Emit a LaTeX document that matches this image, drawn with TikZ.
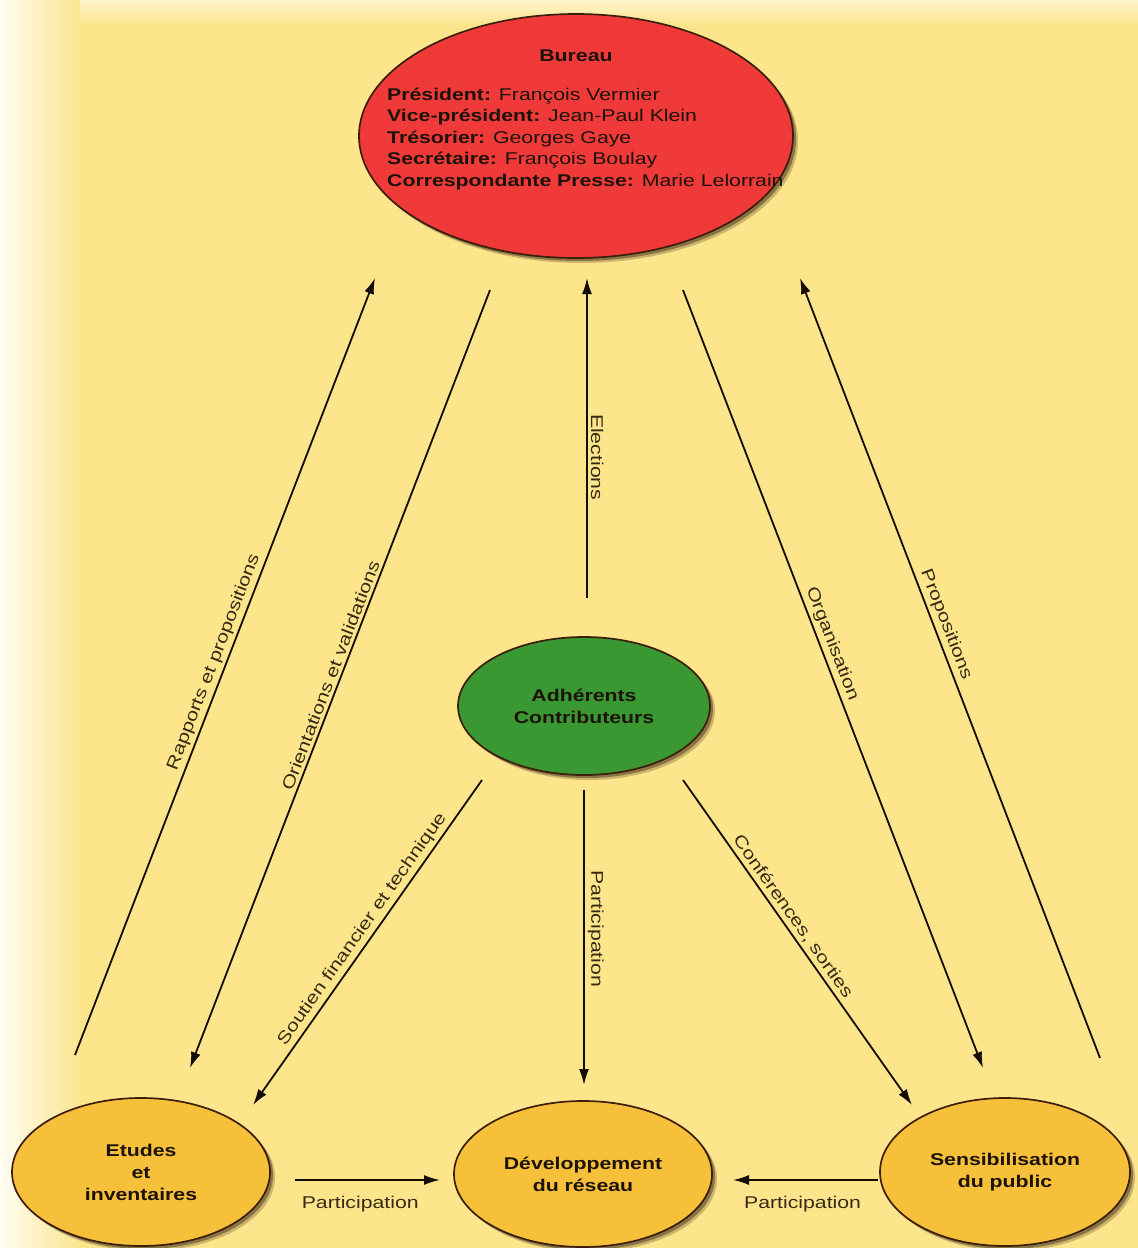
\documentclass[tikz,border=0pt]{standalone}
\usepackage{fontspec}
\setmainfont[FakeStretch=1.25]{Liberation Sans}
\usetikzlibrary{shapes.geometric,arrows.meta,shadows,calc}
\definecolor{bgyel}{RGB}{253,229,140}
\definecolor{redfill}{RGB}{240,58,58}
\definecolor{greenfill}{RGB}{58,152,50}
\definecolor{goldfill}{RGB}{246,192,58}
\definecolor{ink}{RGB}{28,18,8}
\definecolor{lblink}{RGB}{55,42,20}
\definecolor{edgec}{RGB}{60,30,10}
\begin{document}
\begin{tikzpicture}[x=1pt,y=-1pt,
  bubble/.style={ellipse, draw=edgec, line width=1.7pt, inner sep=0pt, align=center, text=ink,
     font=\fontsize{17}{22}\selectfont\bfseries,
     drop shadow={shadow xshift=5pt, shadow yshift=-5pt, fill=black!70!brown, opacity=.25},
     drop shadow={shadow xshift=3pt, shadow yshift=-3pt, fill=black!70!brown, opacity=.45}},
  conn/.style={line width=1.8pt, draw=black!90!brown, -{Latex[length=16pt,width=10pt]}},
  lbl/.style={font=\fontsize{17}{20}\selectfont, text=lblink, inner sep=3pt},
  bline/.style={anchor=base west, inner sep=0pt, text=ink, font=\fontsize{17}{22}\selectfont},
]
\useasboundingbox (0,0) rectangle (1138,1248);
\fill[bgyel] (0,0) rectangle (1138,1248);
% light top edge
\foreach \i in {0,...,7}{
  \pgfmathtruncatemacro{\gg}{244-\i*15/8}
  \pgfmathtruncatemacro{\bb}{200-\i*60/8}
  \definecolor{stepc}{RGB}{253,\gg,\bb}
  \fill[stepc] (0,3*\i) rectangle (1138,3*\i+3.3);
}
% light left edge
\foreach \i in {0,...,19}{
  \pgfmathtruncatemacro{\rr}{255-\i*2/20}
  \pgfmathtruncatemacro{\gg}{253-\i*24/20}
  \pgfmathtruncatemacro{\bb}{240-\i*100/20}
  \definecolor{stepc}{RGB}{\rr,\gg,\bb}
  \fill[stepc] (4*\i,0) rectangle (4*\i+4.3,1248);
}

% nodes
\node[bubble, fill=redfill, minimum width=434pt, minimum height=244pt] (bureau) at (576,136) {};
\node[anchor=base, inner sep=0pt, text=ink, font=\fontsize{17}{22}\selectfont\bfseries] (btitle) at (576,61) {Bureau};
\node[bline] (b1) at (387,100) {\textbf{Président:} François Vermier};
\node[bline] (b2) at (387,121.5) {\textbf{Vice-président:} Jean-Paul Klein};
\node[bline] (b3) at (387,143) {\textbf{Trésorier:} Georges Gaye};
\node[bline] (b4) at (387,164.5) {\textbf{Secrétaire:} François Boulay};
\node[bline] (b5) at (387,186) {\textbf{Correspondante Presse:} Marie Lelorrain};

\node[bubble, fill=greenfill, minimum width=252pt, minimum height=138pt] (adh) at (584,706) {Adhérents\\Contributeurs};
\node[bubble, fill=goldfill, minimum width=258pt, minimum height=148pt] (etudes) at (141,1172) {Etudes\\et\\inventaires};
\node[bubble, fill=goldfill, minimum width=258pt, minimum height=146pt] (dev) at (583,1174) {Développement\\du réseau};
\node[bubble, fill=goldfill, minimum width=250pt, minimum height=148pt] (sens) at (1005,1172) {Sensibilisation\\du public};

% connector end points
\coordinate (rA) at (75,1055);  \coordinate (rB) at (375,278);
\coordinate (oA) at (490,290);  \coordinate (oB) at (190,1068);
\coordinate (eA) at (587,598);  \coordinate (eB) at (587,278);
\coordinate (gA) at (683,290);  \coordinate (gB) at (983,1068);
\coordinate (pA) at (1100,1058);\coordinate (pB) at (800,278);
\coordinate (sA) at (482,780);  \coordinate (sB) at (253,1105);
\coordinate (vA) at (584,790);  \coordinate (vB) at (584,1085);
\coordinate (cA) at (683,780);  \coordinate (cB) at (912,1105);
\coordinate (hA) at (295,1180); \coordinate (hB) at (440,1180);
\coordinate (kA) at (878,1180); \coordinate (kB) at (733,1180);

\draw[conn] (rA) -- (rB) node[lbl, pos=0.5, rotate=68.9, anchor=south] {Rapports et propositions};
\draw[conn] (oA) -- (oB) node[lbl, pos=0.5, rotate=68.9, anchor=south] {Orientations et validations};
\draw[conn] (eA) -- (eB) node[lbl, pos=0.44, rotate=-90, anchor=south] {Elections};
\draw[conn] (gA) -- (gB) node[lbl, pos=0.46, rotate=-68.9, anchor=south] {Organisation};
\draw[conn] (pA) -- (pB) node[lbl, pos=0.55, rotate=-68.9, anchor=south] {Propositions};
\draw[conn] (sA) -- (sB) node[lbl, pos=0.48, rotate=54.8, anchor=south] {Soutien financier et technique};
\draw[conn] (vA) -- (vB) node[lbl, pos=0.47, rotate=-90, anchor=south] {Participation};
\draw[conn] (cA) -- (cB) node[lbl, pos=0.44, rotate=-54.8, anchor=south] {Conférences, sorties};
\draw[conn] (hA) -- (hB);
\node[lbl, anchor=base] (hl) at ($(hA)!0.45!(hB)+(0,28)$) {Participation};
\draw[conn] (kA) -- (kB);
\node[lbl, anchor=base] (kl) at ($(kA)!0.52!(kB)+(0,28)$) {Participation};
\end{tikzpicture}
\end{document}
